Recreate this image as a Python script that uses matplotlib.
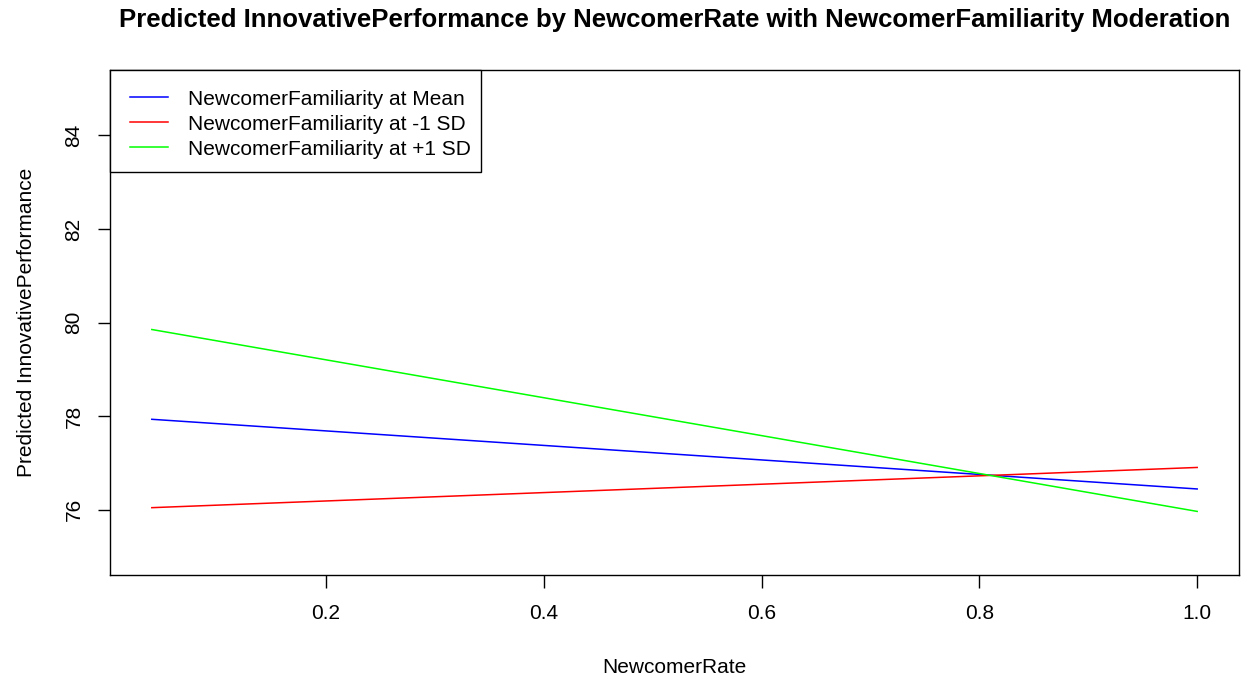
import matplotlib
matplotlib.use("Agg")
import matplotlib.pyplot as plt
from matplotlib.patches import Rectangle
from matplotlib.lines import Line2D

plt.rcParams['font.family'] = ['Liberation Sans', 'DejaVu Sans']

newcomer_rate = [0.04, 1.0]
fam_mean = [77.93, 76.44]
fam_minus1 = [76.04, 76.90]
fam_plus1 = [79.85, 75.96]
series_labels = ["NewcomerFamiliarity at Mean", "NewcomerFamiliarity at -1 SD", "NewcomerFamiliarity at +1 SD"]
series_colors = ["#0000FF", "#FF0000", "#00FF00"]
x_ticks = [0.2, 0.4, 0.6, 0.8, 1.0]
y_ticks = [76, 78, 80, 82, 84]

W, H = 1246, 681
L, R, T, B = 110, 1239, 70, 575
fig = plt.figure(figsize=(W/100, H/100), dpi=100)
ax = fig.add_axes([L/W, 1-B/H, (R-L)/W, (B-T)/H])

for ys, col in zip([fam_mean, fam_minus1, fam_plus1], series_colors):
    ax.plot(newcomer_rate, ys, color=col, lw=1.1)

ax.set_xlim(0.0016, 1.0384)
ax.set_ylim(74.6, 85.4)
ax.set_xticks(x_ticks)
ax.set_xticklabels([f"{v:.1f}" for v in x_ticks])
ax.set_yticks(y_ticks)
ax.set_yticklabels([str(v) for v in y_ticks], rotation=90, va='center')
ax.tick_params(direction='out', length=9, width=1, labelsize=15, colors='black')
ax.tick_params(axis='x', pad=12)
ax.tick_params(axis='y', pad=10)
for s in ax.spines.values():
    s.set_linewidth(1.0)
    s.set_color('black')

ax.set_xlabel("NewcomerRate", fontsize=15, va='baseline')
ax.xaxis.set_label_coords(0.5, -(673-B)/(B-T))
ax.set_ylabel("Predicted InnovativePerformance", fontsize=15, va='baseline')
ax.yaxis.set_label_coords(-(L-32)/(R-L), 0.5)

fig.text((L+R)/2/W, 1-27/H, "Predicted InnovativePerformance by NewcomerRate with NewcomerFamiliarity Moderation",
         ha='center', va='baseline', fontsize=18.5, fontweight='bold')

# legend (R-style box at top-left)
def px(x, y):
    return (x/W, 1-y/H)
fig.patches.append(Rectangle(px(110, 172), (481-110)/W, (172-70)/H, transform=fig.transFigure,
                             facecolor='white', edgecolor='black', lw=1.0, zorder=5))
for i, (lab, col) in enumerate(zip(series_labels, series_colors)):
    yc = 97 + 25*i
    x0, y0 = px(130, yc)
    x1, _ = px(168, yc)
    fig.add_artist(Line2D([x0, x1], [y0, y0], transform=fig.transFigure, color=col, lw=1.1, zorder=6))
    tx, ty = px(188, yc + 8)
    fig.text(tx, ty, lab, ha='left', va='baseline', fontsize=15, zorder=6)

fig.savefig("out.png", dpi=100, facecolor='white')
